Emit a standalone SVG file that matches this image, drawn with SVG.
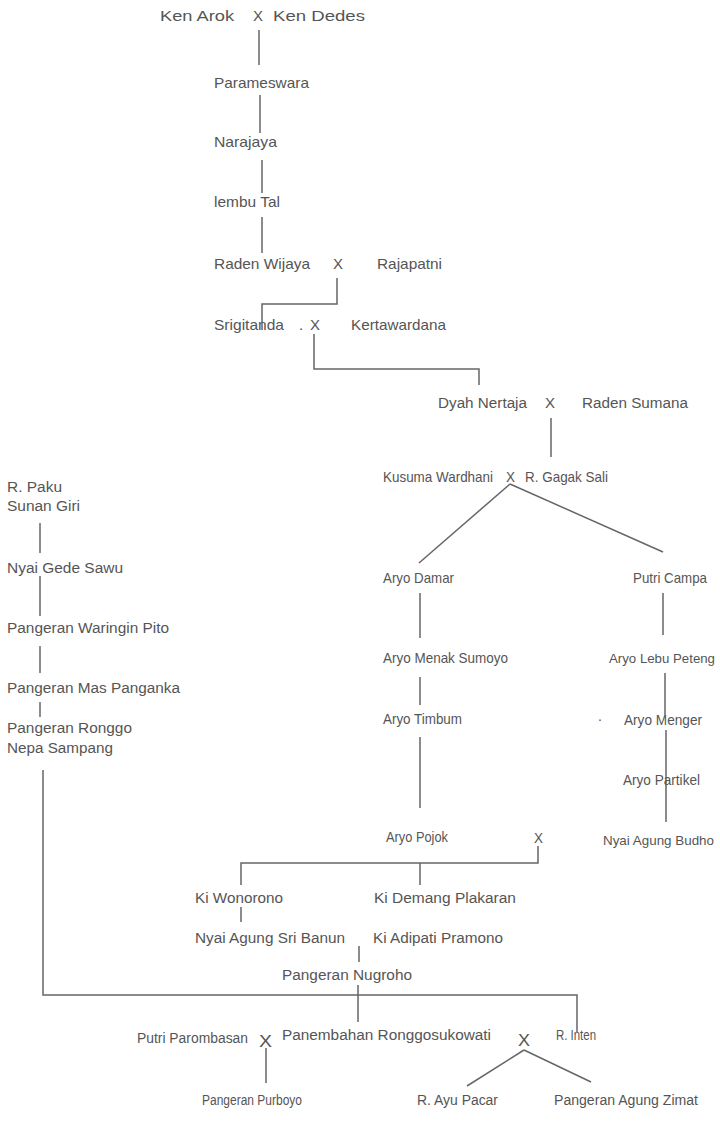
<svg xmlns="http://www.w3.org/2000/svg" width="720" height="1140" viewBox="0 0 720 1140">
<style>
text{font-family:"Liberation Sans",Arial,sans-serif;fill:#555;font-size:15px}
.s{font-size:14px}
.b{font-size:15.5px}
.r{font-size:13.5px}
.l{fill:none;stroke:#666;stroke-width:1.5}
</style>
<rect width="720" height="1140" fill="#fff"/>
<g id="connectors" class="l">
<path d="M259,30V65"/>
<path d="M260,95V133"/>
<path d="M262,160V193"/>
<path d="M262,217V253"/>
<path d="M337,278V304H262V330"/>
<path d="M314,334V369H479V385"/>
<path d="M551,418V457"/>
<path d="M510,484L419,563"/>
<path d="M510,484L663,552"/>
<path d="M420,593V638"/>
<path d="M663,593V635"/>
<path d="M420,677V705"/>
<path d="M665,673V715"/>
<path d="M420,737V808"/>
<path d="M666,730V822"/>
<path d="M538,846V863H241V885"/>
<path d="M420,863V885"/>
<path d="M241,907V922"/>
<path d="M359,946V962"/>
<path d="M43,770V995H577V1032"/>
<path d="M358,985V1022"/>
<path d="M266,1048V1083"/>
<path d="M524,1050L467,1086"/>
<path d="M524,1050L591,1082"/>
<path d="M40,523V553"/>
<path d="M40,576V616"/>
<path d="M40,646V673"/>
<path d="M40,702V717"/>
</g>
<g id="ken-arok"><text x="160" y="21" textLength="74" lengthAdjust="spacingAndGlyphs">Ken Arok</text></g>
<g id="x1"><text x="253" y="21" textLength="10" lengthAdjust="spacingAndGlyphs">X</text></g>
<g id="ken-dedes"><text x="273" y="21" textLength="92" lengthAdjust="spacingAndGlyphs">Ken Dedes</text></g>
<g id="parameswara"><text x="214" y="88" textLength="95" lengthAdjust="spacingAndGlyphs">Parameswara</text></g>
<g id="narajaya"><text x="214" y="147" textLength="63" lengthAdjust="spacingAndGlyphs">Narajaya</text></g>
<g id="lembu-tal"><text x="214" y="207" textLength="66" lengthAdjust="spacingAndGlyphs">lembu Tal</text></g>
<g id="raden-wijaya"><text x="214" y="269" textLength="96" lengthAdjust="spacingAndGlyphs">Raden Wijaya</text></g>
<g id="x2"><text x="333" y="269" textLength="10" lengthAdjust="spacingAndGlyphs">X</text></g>
<g id="rajapatni"><text x="377" y="269" textLength="65" lengthAdjust="spacingAndGlyphs">Rajapatni</text></g>
<g id="srigitanda"><text x="214" y="330" textLength="70" lengthAdjust="spacingAndGlyphs">Srigitanda</text><text x="299" y="330">.</text></g>
<g id="x3"><text x="310" y="330" textLength="10" lengthAdjust="spacingAndGlyphs">X</text></g>
<g id="kertawardana"><text x="351" y="330" textLength="95" lengthAdjust="spacingAndGlyphs">Kertawardana</text></g>
<g id="dyah-nertaja"><text class="b" x="438" y="408" textLength="89" lengthAdjust="spacingAndGlyphs">Dyah Nertaja</text></g>
<g id="x4"><text class="b" x="545" y="408" textLength="10" lengthAdjust="spacingAndGlyphs">X</text></g>
<g id="raden-sumana"><text class="b" x="582" y="408" textLength="106" lengthAdjust="spacingAndGlyphs">Raden Sumana</text></g>
<g id="kusuma-wardhani"><text x="383" y="482" textLength="110" lengthAdjust="spacingAndGlyphs">Kusuma Wardhani</text></g>
<g id="x5"><text x="506" y="482" textLength="9" lengthAdjust="spacingAndGlyphs">X</text></g>
<g id="gagak-sali"><text x="525" y="482" textLength="83" lengthAdjust="spacingAndGlyphs">R. Gagak Sali</text></g>
<g id="aryo-damar"><text x="383" y="583" textLength="71" lengthAdjust="spacingAndGlyphs">Aryo Damar</text></g>
<g id="putri-campa"><text x="633" y="583" textLength="74" lengthAdjust="spacingAndGlyphs">Putri Campa</text></g>
<g id="aryo-menak-sumoyo"><text x="383" y="663" textLength="125" lengthAdjust="spacingAndGlyphs">Aryo Menak Sumoyo</text></g>
<g id="aryo-lebu-peteng"><text class="r" x="609" y="663" textLength="106" lengthAdjust="spacingAndGlyphs">Aryo Lebu Peteng</text></g>
<g id="aryo-timbum"><text x="383" y="724" textLength="79" lengthAdjust="spacingAndGlyphs">Aryo Timbum</text></g>
<g id="aryo-menger"><text x="598" y="721" class="s">.</text><text x="624" y="725" textLength="78" lengthAdjust="spacingAndGlyphs">Aryo Menger</text></g>
<g id="aryo-partikel"><text x="623" y="785" textLength="77" lengthAdjust="spacingAndGlyphs">Aryo Partikel</text></g>
<g id="aryo-pojok"><text class="s" x="386" y="842" textLength="62" lengthAdjust="spacingAndGlyphs">Aryo Pojok</text></g>
<g id="x6"><text class="s" x="534" y="843" textLength="9" lengthAdjust="spacingAndGlyphs">X</text></g>
<g id="nyai-agung-budho"><text class="r" x="603" y="845" textLength="111" lengthAdjust="spacingAndGlyphs">Nyai Agung Budho</text></g>
<g id="ki-wonorono"><text class="b" x="195" y="903" textLength="88" lengthAdjust="spacingAndGlyphs">Ki Wonorono</text></g>
<g id="ki-demang-plakaran"><text class="b" x="374" y="903" textLength="142" lengthAdjust="spacingAndGlyphs">Ki Demang Plakaran</text></g>
<g id="nyai-agung-sri-banun"><text class="b" x="195" y="943" textLength="150" lengthAdjust="spacingAndGlyphs">Nyai Agung Sri Banun</text></g>
<g id="ki-adipati-pramono"><text class="b" x="373" y="943" textLength="130" lengthAdjust="spacingAndGlyphs">Ki Adipati Pramono</text></g>
<g id="pangeran-nugroho"><text class="b" x="282" y="980" textLength="130" lengthAdjust="spacingAndGlyphs">Pangeran Nugroho</text></g>
<g id="putri-parombasan"><text class="s" x="137" y="1043" textLength="111" lengthAdjust="spacingAndGlyphs">Putri Parombasan</text></g>
<g id="x7"><text style="font-size:17px" x="259" y="1047" textLength="13" lengthAdjust="spacingAndGlyphs">X</text></g>
<g id="panembahan-ronggosukowati"><text class="b" x="282" y="1040" textLength="209" lengthAdjust="spacingAndGlyphs">Panembahan Ronggosukowati</text></g>
<g id="x8"><text style="font-size:17px" x="518" y="1046" textLength="12" lengthAdjust="spacingAndGlyphs">X</text></g>
<g id="r-inten"><text class="s" x="556" y="1040" textLength="40" lengthAdjust="spacingAndGlyphs">R. Inten</text></g>
<g id="pangeran-purboyo"><text class="s" x="202" y="1105" textLength="100" lengthAdjust="spacingAndGlyphs">Pangeran Purboyo</text></g>
<g id="r-ayu-pacar"><text class="s" x="417" y="1105" textLength="81" lengthAdjust="spacingAndGlyphs">R. Ayu Pacar</text></g>
<g id="pangeran-agung-zimat"><text class="s" x="554" y="1105" textLength="144" lengthAdjust="spacingAndGlyphs">Pangeran Agung Zimat</text></g>
<g id="r-paku"><text class="b" x="7" y="492" textLength="55" lengthAdjust="spacingAndGlyphs">R. Paku</text><text class="b" x="7" y="511" textLength="73" lengthAdjust="spacingAndGlyphs">Sunan Giri</text></g>
<g id="nyai-gede-sawu"><text class="b" x="7" y="573" textLength="116" lengthAdjust="spacingAndGlyphs">Nyai Gede Sawu</text></g>
<g id="pangeran-waringin-pito"><text class="b" x="7" y="633" textLength="162" lengthAdjust="spacingAndGlyphs">Pangeran Waringin Pito</text></g>
<g id="pangeran-mas-panganka"><text class="b" x="7" y="693" textLength="173" lengthAdjust="spacingAndGlyphs">Pangeran Mas Panganka</text></g>
<g id="pangeran-ronggo"><text class="b" x="7" y="733" textLength="125" lengthAdjust="spacingAndGlyphs">Pangeran Ronggo</text><text class="b" x="7" y="753" textLength="106" lengthAdjust="spacingAndGlyphs">Nepa Sampang</text></g>
</svg>
